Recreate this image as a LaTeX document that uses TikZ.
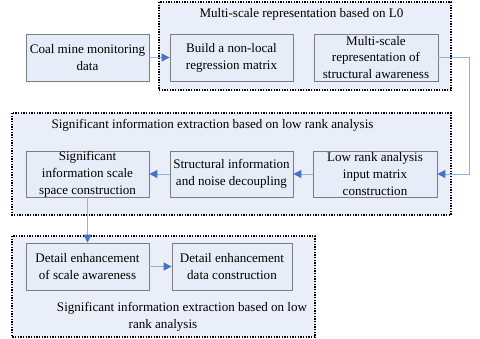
\documentclass[tikz,border=0pt]{standalone}
\usepackage{fontspec}
\setmainfont{Liberation Serif}
\usetikzlibrary{arrows.meta}
\definecolor{grpfill}{RGB}{233,238,248}
\definecolor{boxfill}{RGB}{231,237,248}
\definecolor{boxline}{RGB}{125,125,125}
\definecolor{lineblue}{RGB}{141,179,226}
\definecolor{tipblue}{RGB}{68,114,196}
\tikzset{
  grp/.style={draw=black, fill=grpfill, line width=0.8pt, dash pattern=on 1pt off 1pt},
  stepbox/.style={draw=boxline, fill=boxfill, line width=0.6pt, align=center, inner sep=0pt,
    font=\fontsize{9.8}{12.6}\selectfont},
  ttl/.style={inner sep=0pt, font=\fontsize{9.8}{12.6}\selectfont},
  conn/.style={draw=lineblue, line width=0.7pt, -{Triangle[length=6pt,width=6pt,color=tipblue]}},
}
\begin{document}
\begin{tikzpicture}[x=0.75pt,y=-0.75pt]
\useasboundingbox (0,0) rectangle (480,339);
% groups
\draw[grp] (159,2) rectangle (451,90);
\draw[grp] (12,113) rectangle (451,215);
\draw[grp] (12,236) rectangle (315,337);
% titles
\node[ttl] (t1) at (301.5,14) {Multi-scale representation based on L0};
\node[ttl] (t2) at (212.5,125.5) {Significant information extraction based on low rank analysis};
\node[ttl] (t3a) at (182,308) {Significant information extraction based on low};
\node[ttl] (t3b) at (163,325) {rank analysis};
% boxes
\node[stepbox, minimum width=92.25pt, minimum height=35.25pt] (coal) at (87.5,57.5) {Coal mine monitoring\\data};
\node[stepbox, minimum width=92.25pt, minimum height=35.25pt] (build) at (231.5,57.5) {Build a non-local\\regression matrix};
\node[stepbox, minimum width=93pt, minimum height=35.25pt] (multi) at (376,57.5) {Multi-scale\\representation of\\structural awareness};
\node[stepbox, minimum width=92.25pt, minimum height=34.5pt] (sig) at (87.5,174) {Significant\\information scale\\space construction};
\node[stepbox, minimum width=92.25pt, minimum height=34.5pt] (struct) at (231.5,174) {Structural information\\and noise decoupling};
\node[stepbox, minimum width=93pt, minimum height=34.5pt] (low) at (375,174) {Low rank analysis\\input matrix\\construction};
\node[stepbox, minimum width=92.25pt, minimum height=35.25pt] (det1) at (87.5,266.5) {Detail enhancement\\of scale awareness};
\node[stepbox, minimum width=90pt, minimum height=35.25pt] (det2) at (232,266.5) {Detail enhancement\\data construction};
% connectors
\coordinate (c1) at (469,57.5);
\coordinate (c2) at (469,174);
\draw[conn] (coal) -- (build);
\draw[conn] (multi.east) -- (c1) -- (c2) -- (low.east);
\draw[conn] (low) -- (struct);
\draw[conn] (struct) -- (sig);
\draw[conn] (sig.south) -- (det1.north);
\draw[conn] (det1) -- (det2);
\end{tikzpicture}
\end{document}
